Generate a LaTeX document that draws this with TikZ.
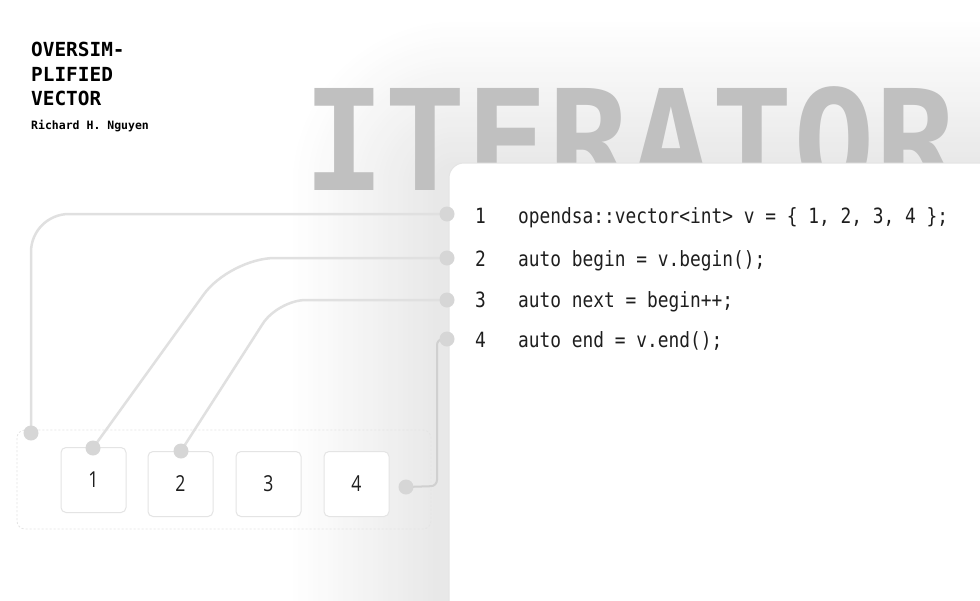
\documentclass[tikz,border=0pt]{standalone}
\usepackage{fontspec}
\usetikzlibrary{positioning}
\newfontfamily\titlefont{DejaVu Sans Mono}
\newfontfamily\codefont[FakeStretch=0.85]{DejaVu Sans Mono}
\newfontfamily\cellfont[FakeStretch=0.8]{Open Sans}
\definecolor{ink}{RGB}{30,30,30}
\definecolor{ghost}{RGB}{192,192,192}
\definecolor{wire}{RGB}{224,224,224}
\definecolor{wiredark}{RGB}{208,208,208}
\definecolor{dotgrey}{RGB}{214,214,214}
\definecolor{edge}{RGB}{228,228,228}
\tikzset{
  cell/.style={draw=edge, fill=white, rounded corners=5pt, line width=1pt,
               minimum width=65pt, minimum height=65pt, inner sep=0pt,
               font=\cellfont\fontsize{22}{24}\selectfont, text=ink},
  knob/.style={circle, minimum size=15pt, inner sep=0pt},
  link/.style={draw=wire, line width=2.5pt},
  tray/.style={draw=edge, line width=0.8pt, dash pattern=on 2pt off 2pt, rounded corners=8pt},
  codeline/.style={anchor=base west, inner sep=0pt, text=ink,
                   font=\codefont\fontsize{21}{24}\selectfont},
}

\begin{document}
\begin{tikzpicture}[x=1pt, y=-1pt]
  \fill[white] (0,0) rectangle (980,600);
  \useasboundingbox (0,0) rectangle (980,600);
  \clip (0,0) rectangle (980,600);

  % soft shadow of the code sheet (outer bands first), then the big word behind it
  \foreach \r [evaluate=\r as \xa using 443-\r, evaluate=\r as \ya using 172-\r,
               evaluate=\r as \rr using 15+\r, evaluate=\r as \pp using 9.5*(1-\r/155)]
               in {150,145,...,5}
    \fill[black!\pp, rounded corners=\rr pt] (\xa,\ya) rectangle (1300,900);
  \node[font=\titlefont\bfseries\fontsize{140}{140}\selectfont, text=ghost, anchor=base west,
        inner sep=0pt, text depth=0pt, xscale=0.97, transform shape] (big) at (303,190) {ITERATOR};

  % title
  \node[font=\titlefont\bfseries\fontsize{19.4}{24.5}\selectfont, align=left, anchor=north west,
        inner sep=0pt] (title) at (31,42) {OVERSIM-\\PLIFIED\\VECTOR};
  \node[font=\titlefont\bfseries\fontsize{11.5}{13}\selectfont, anchor=base west, inner sep=0pt]
    (author) at (31,129) {Richard H. Nguyen};

  % code sheet
  \draw[draw=edge, fill=white, line width=1pt, rounded corners=15pt] (449,163) rectangle (1100,700);
  \node[codeline] (n1) at (475,223) {1};
  \node[codeline] (n2) at (475,266) {2};
  \node[codeline] (n3) at (475,307) {3};
  \node[codeline] (n4) at (475,347) {4};
  \node[codeline] (c1) at (518,223) {opendsa::vector<int> v = \{ 1, 2, 3, 4 \};};
  \node[codeline] (c2) at (518,266) {auto begin = v.begin();};
  \node[codeline] (c3) at (518,307) {auto next = begin++;};
  \node[codeline] (c4) at (518,347) {auto end = v.end();};

  % the vector
  \draw[tray] (17,430) rectangle (431,529);
  \node[cell] (b1) at (93.5,480) {1};
  \node[cell] (b2) at (180.5,484) {2};
  \node[cell, right=22pt of b2] (b3) {3};
  \node[cell, right=22pt of b3] (b4) {4};

  % pins
  \node[knob] (p1) at (447,214) {};
  \node[knob] (p2) at (447,258) {};
  \node[knob] (p3) at (447,300) {};
  \node[knob] (p4) at (447,339) {};
  \node[knob] (q0) at (31,433) {};
  \node[knob] (q1) at (93,448) {};
  \node[knob] (q2) at (181,451) {};
  \node[knob] (q4) at (406,487) {};

  % links from code lines to the elements
  \draw[link, rounded corners=38pt] (p1.center) -| (q0.center);
  \draw[link, rounded corners=45pt] (p2.center) -- (230,258) -- (q1.center);
  \draw[link, rounded corners=28pt] (p3.center) -- (278,300) -- (q2.center);
  \draw[link, draw=wiredark, line width=2pt, rounded corners=6pt]
    (p4.center) -- (437,339) -- (437,486) -- (q4.center);
  \foreach \p in {p1,p2,p3,p4,q0,q1,q2,q4}
    \fill[dotgrey] (\p) circle (7.5pt);
\end{tikzpicture}
\end{document}
